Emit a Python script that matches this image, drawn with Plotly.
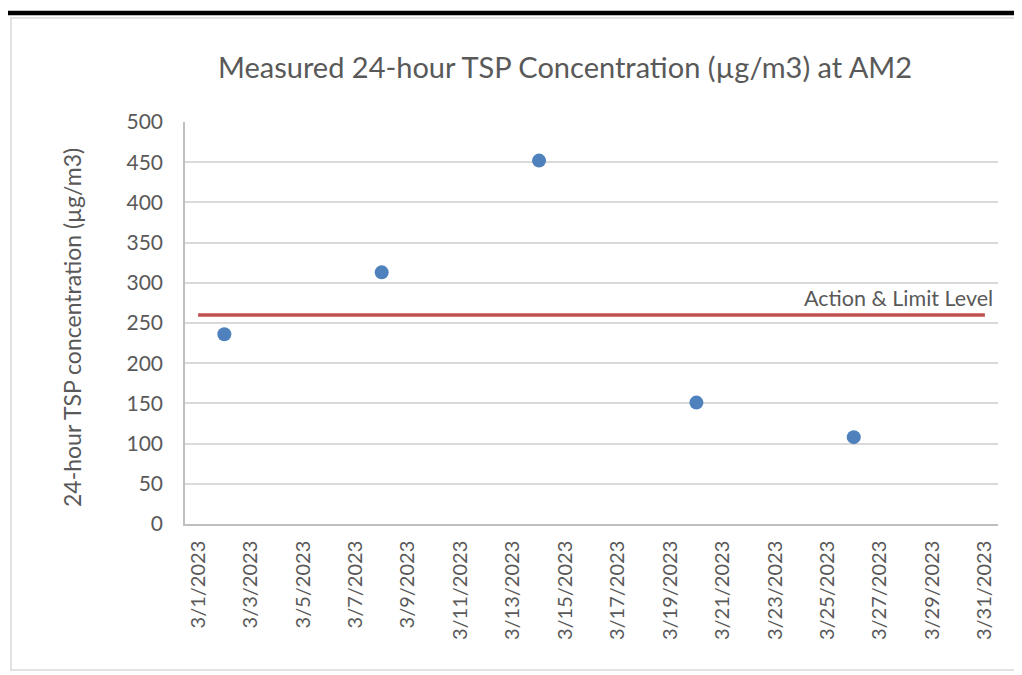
import plotly.graph_objects as go

dates = ["2023-03-02", "2023-03-08", "2023-03-14", "2023-03-20", "2023-03-26"]
tsp = [236, 313, 452, 151, 108]
limit_dates = ["2023-03-01", "2023-03-31"]
limit_level = 260
tick_dates = ["2023-03-%02d" % d for d in range(1, 32, 2)]
tick_labels = ["3/%d/2023" % d for d in range(1, 32, 2)]
y_ticks = list(range(0, 501, 50))

O = 8  # page offset of the figure (body margin)
W, H = 1022 - O, 675 - O
L, T = 185 - O, 122 - O
R = W - (998 - O)
B = H - (524 - O)
pw, ph = W - L - R, H - T - B

def px(xpage):
    return (xpage - O - L) / pw

def py(ypage):
    return (H - B - (ypage - O)) / ph

font = "Lato, 'Open Sans', sans-serif"
gray = "#595959"

fig = go.Figure()
fig.add_trace(go.Scatter(
    x=limit_dates, y=[limit_level, limit_level], mode="lines",
    line=dict(color="#C0504D", width=3.5), hoverinfo="skip", showlegend=False))
fig.add_trace(go.Scatter(
    x=dates, y=tsp, mode="markers",
    marker=dict(color="#4F81BD", size=14), showlegend=False))

fig.add_annotation(x=px(995), xref="paper", y=limit_level, yref="y",
                   text="Action & Limit Level", showarrow=False,
                   xanchor="right", yanchor="bottom", yshift=2,
                   font=dict(family=font, size=21.5, color=gray))

fig.add_annotation(x=px(72), xref="paper", y=py(328), yref="paper",
                   text="24-hour TSP concentration (µg/m3)", showarrow=False,
                   textangle=-90, xanchor="center", yanchor="middle",
                   font=dict(family=font, size=23, color=gray))

fig.update_layout(
    width=W, height=H,
    margin=dict(l=L, r=R, t=T, b=B),
    paper_bgcolor="white", plot_bgcolor="white",
    title=dict(text="Measured 24-hour TSP Concentration (µg/m3) at AM2",
               x=(565 - O) / W, xanchor="center", y=1 - (68 - O) / H, yanchor="middle",
               font=dict(family=font, size=29, color=gray)),
    xaxis=dict(range=["2023-02-28 12:00", "2023-03-31 12:00"],
               tickvals=tick_dates, ticktext=tick_labels, tickangle=-90,
               tickfont=dict(family=font, size=20, color=gray),
               ticklabelstandoff=7,
               showgrid=False, showline=True, linecolor="#BFBFBF", linewidth=1.5,
               ticks="", zeroline=False),
    yaxis=dict(range=[0, 500], tickvals=y_ticks,
               tickfont=dict(family=font, size=21, color=gray),
               ticklabelstandoff=16,
               showgrid=True, gridcolor="#D9D9D9", gridwidth=1.5,
               showline=True, linecolor="#BFBFBF", linewidth=1.5,
               zeroline=False, ticks="", ticklen=0),
    shapes=[
        dict(type="rect", xref="paper", yref="paper",
             x0=px(11), x1=px(1040), y0=py(670), y1=py(18),
             line=dict(color="#D9D9D9", width=1.5), layer="below"),
        dict(type="line", xref="paper", yref="paper",
             x0=px(6), x1=px(1040), y0=py(13), y1=py(13),
             line=dict(color="black", width=4.5)),
    ],
)

fig.write_html("out.html")
